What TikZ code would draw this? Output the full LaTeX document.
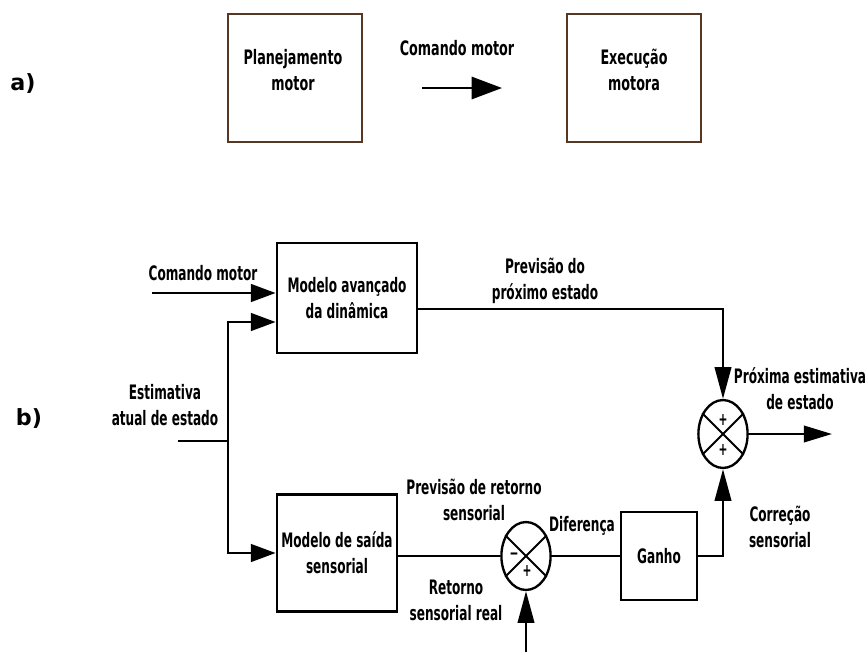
\documentclass[tikz,border=0pt]{standalone}
\usepackage{fontspec}
\setmainfont{DejaVu Sans Condensed}[FakeStretch=0.675]
\newfontfamily\afont{DejaVu Sans Condensed}[FakeStretch=0.71]
\newfontfamily\widefont{DejaVu Sans}
\usetikzlibrary{shapes.geometric,arrows.meta,calc}
\definecolor{brownbox}{RGB}{85,55,35}

\begin{document}
\begin{tikzpicture}[x=0.03cm,y=-0.03cm,
    box/.style={draw,line width=2.4pt,inner sep=0pt},
    lbl/.style={font=\bfseries\fontsize{17}{22}\selectfont,align=center,inner sep=0pt},
    albl/.style={lbl,font=\afont\bfseries\fontsize{17}{22}\selectfont},
    part/.style={font=\widefont\bfseries\fontsize{19}{19}\selectfont,inner sep=0pt},
    sumnode/.style={draw,ellipse,line width=2pt,minimum width=42,minimum height=58,inner sep=0pt},
    sgn/.style={font=\bfseries\fontsize{15}{15}\selectfont,inner sep=0pt},
    wire/.style={line width=2.1pt},
    arr/.style={wire,-{Triangle[length=21pt,width=15pt]}},
    varr/.style={wire,-{Triangle[length=27pt,width=14pt]}}]
    \useasboundingbox (0,0) rectangle (868,666);

    % a)
    \node[part] (pa) at (23,84) {a)};
    \node[box,draw=brownbox,minimum width=134*0.03cm,minimum height=128*0.03cm] (plan) at (295,78) {};
    \node[box,draw=brownbox,minimum width=134*0.03cm,minimum height=128*0.03cm] (exec) at (634,78) {};
    \node[albl] (plantxt) at (293,70) {Planejamento\\motor};
    \node[albl] (exectxt) at (634,70) {Execução\\motora};
    \node[albl] (cmda) at (457,48) {Comando motor};
    \coordinate (a1) at (422,88);
    \coordinate (a2) at (502,88);
    \draw[wire,-{Triangle[length=26pt,width=19pt]}] (a1) -- (a2);

    % b)
    \node[part] (pb) at (29,419) {b)};
    \node[box,minimum width=140*0.03cm,minimum height=110*0.03cm,lbl] (fwd) at (347,298) {Modelo avançado\\da dinâmica};
    \node[box,minimum width=120*0.03cm,minimum height=117*0.03cm,lbl] (sens) at (337,553) {Modelo de saída\\sensorial};
    \node[box,minimum width=76*0.03cm,minimum height=88*0.03cm,lbl] (gain) at (659,556) {Ganho};
    \node[sumnode] (diff) at (526,556) {};
    \node[sumnode] (sum) at (723,434) {};
    \draw[line width=1.6pt] (diff.45) -- (diff.225) (diff.135) -- (diff.315);
    \draw[line width=1.6pt] (sum.45) -- (sum.225) (sum.135) -- (sum.315);
    \node[sgn] (d1) at ($(diff)+(-12,0)$) {\textminus};
    \node[sgn] (d2) at ($(diff)+(1,15)$) {+};
    \node[sgn] (s1) at ($(sum)+(0,-14)$) {+};
    \node[sgn] (s2) at ($(sum)+(0,16)$) {+};

    \coordinate (cin) at (152,293);
    \coordinate (est) at (178,441);
    \coordinate (jn) at (228,441);
    \coordinate (real) at (526,652);
    \coordinate (out) at (832,434);

    \draw[arr] (cin) -- (fwd.west |- cin);
    \draw[wire] (est) -- (jn);
    \draw[arr] (jn) |- ($(fwd.west)+(0,24)$);
    \draw[arr] (jn) |- (sens.west);
    \draw[varr] ($(fwd.east)+(0,11)$) -| (sum.north);
    \draw[wire] (diff.west -| sens.east) -- (diff.west);
    \draw[varr] (real) -- (diff.south);
    \draw[wire] (diff.east) -- (gain.west |- diff.east);
    \draw[varr] (gain.east) -| (sum.south);
    \draw[wire,-{Triangle[length=24pt,width=14pt]}] (sum.east) -- (out);

    \node[lbl] (cmdb) at (203,273) {Comando motor};
    \node[lbl] (prev) at (545,281) {Previsão do\\próximo estado};
    \node[lbl] (estim) at (165,405) {Estimativa\\atual de estado};
    \node[lbl] (next) at (800,389) {Próxima estimativa\\de estado};
    \node[lbl] (prevs) at (474,500) {Previsão de retorno\\sensorial};
    \node[lbl] (dlbl) at (582,526) {Diferença};
    \node[lbl] (rlbl) at (456,600) {Retorno\\sensorial real};
    \node[lbl] (corr) at (780,527) {Correção\\sensorial};
\end{tikzpicture}
\end{document}
